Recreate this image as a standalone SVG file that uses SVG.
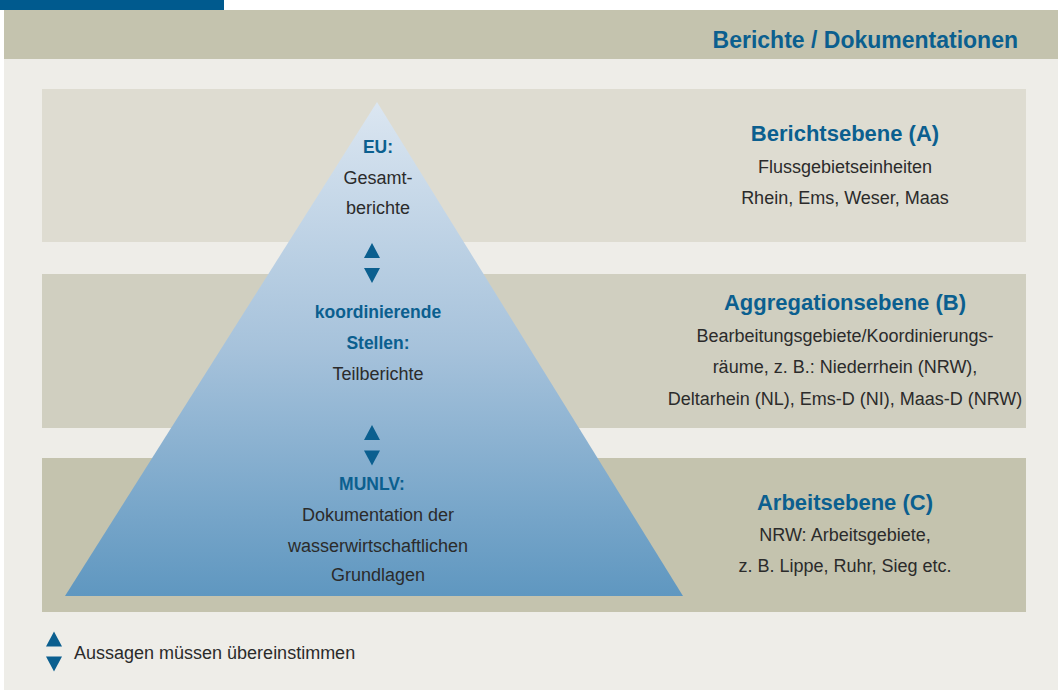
<svg xmlns="http://www.w3.org/2000/svg" width="1058" height="693" viewBox="0 0 1058 693">
<defs>
<linearGradient id="pyr" x1="0" y1="0" x2="0" y2="1">
<stop offset="0" stop-color="#dbe6f1"/>
<stop offset="0.5" stop-color="#a6c2db"/>
<stop offset="1" stop-color="#5f97c0"/>
</linearGradient>
<path id="up" d="M0,-7.5 L8,7.5 L-8,7.5 Z"/>
<path id="dn" d="M0,7.5 L8,-7.5 L-8,-7.5 Z"/>
</defs>
<style>
text{font-family:"Liberation Sans","DejaVu Sans",sans-serif;text-anchor:middle}
.h{font-size:22px;font-weight:bold;fill:#0b5f8f}
.b{font-size:17.5px;font-weight:bold;fill:#0b5f8f}
.t{font-size:18px;fill:#2b2b2b}
.arr{fill:#0b5f8f}
</style>
<rect x="0" y="0" width="1058" height="693" fill="#ffffff"/>
<rect x="4" y="59" width="1054" height="631" fill="#eeede8"/>
<rect x="0" y="0" width="224" height="10" fill="#005a8e"/>
<g id="header">
<rect x="4" y="10" width="1054" height="49" fill="#c4c3ae"/>
<text class="h" x="1018" y="48" style="text-anchor:end;font-size:23px">Berichte / Dokumentationen</text>
</g>
<g id="band-a">
<rect x="42" y="89" width="984" height="153" fill="#dedcd1"/>
<text class="h" x="845" y="141">Berichtsebene (A)</text>
<text class="t" x="845" y="173">Flussgebietseinheiten</text>
<text class="t" x="845" y="204">Rhein, Ems, Weser, Maas</text>
</g>
<g id="band-b">
<rect x="42" y="274" width="984" height="154" fill="#d0cfc0"/>
<text class="h" x="845" y="310">Aggregationsebene (B)</text>
<text class="t" x="845" y="342">Bearbeitungsgebiete/Koordinierungs-</text>
<text class="t" x="845" y="373">räume, z. B.: Niederrhein (NRW),</text>
<text class="t" x="845" y="405">Deltarhein (NL), Ems-D (NI), Maas-D (NRW)</text>
</g>
<g id="band-c">
<rect x="42" y="458" width="984" height="154" fill="#c4c3ae"/>
<text class="h" x="845" y="510">Arbeitsebene (C)</text>
<text class="t" x="845" y="541">NRW: Arbeitsgebiete,</text>
<text class="t" x="845" y="572">z. B. Lippe, Ruhr, Sieg etc.</text>
</g>
<g id="pyramid">
<path d="M377,102 L683,596 L65,596 Z" fill="url(#pyr)"/>
<text class="b" x="378" y="153">EU:</text>
<text class="t" x="378" y="184">Gesamt-</text>
<text class="t" x="378" y="214">berichte</text>
<text class="b" x="378" y="318">koordinierende</text>
<text class="b" x="378" y="349">Stellen:</text>
<text class="t" x="378" y="380">Teilberichte</text>
<text class="b" x="372" y="490">MUNLV:</text>
<text class="t" x="378" y="521">Dokumentation der</text>
<text class="t" x="378" y="552">wasserwirtschaftlichen</text>
<text class="t" x="378" y="581">Grundlagen</text>
</g>
<g id="connectors" class="arr">
<use href="#up" x="372" y="250.5"/>
<use href="#dn" x="372" y="275.5"/>
<use href="#up" x="372" y="432.5"/>
<use href="#dn" x="372" y="458"/>
</g>
<g id="legend">
<use class="arr" href="#up" x="54" y="639"/>
<use class="arr" href="#dn" x="54" y="664"/>
<text class="t" x="74" y="659" style="text-anchor:start">Aussagen müssen übereinstimmen</text>
</g>
</svg>
